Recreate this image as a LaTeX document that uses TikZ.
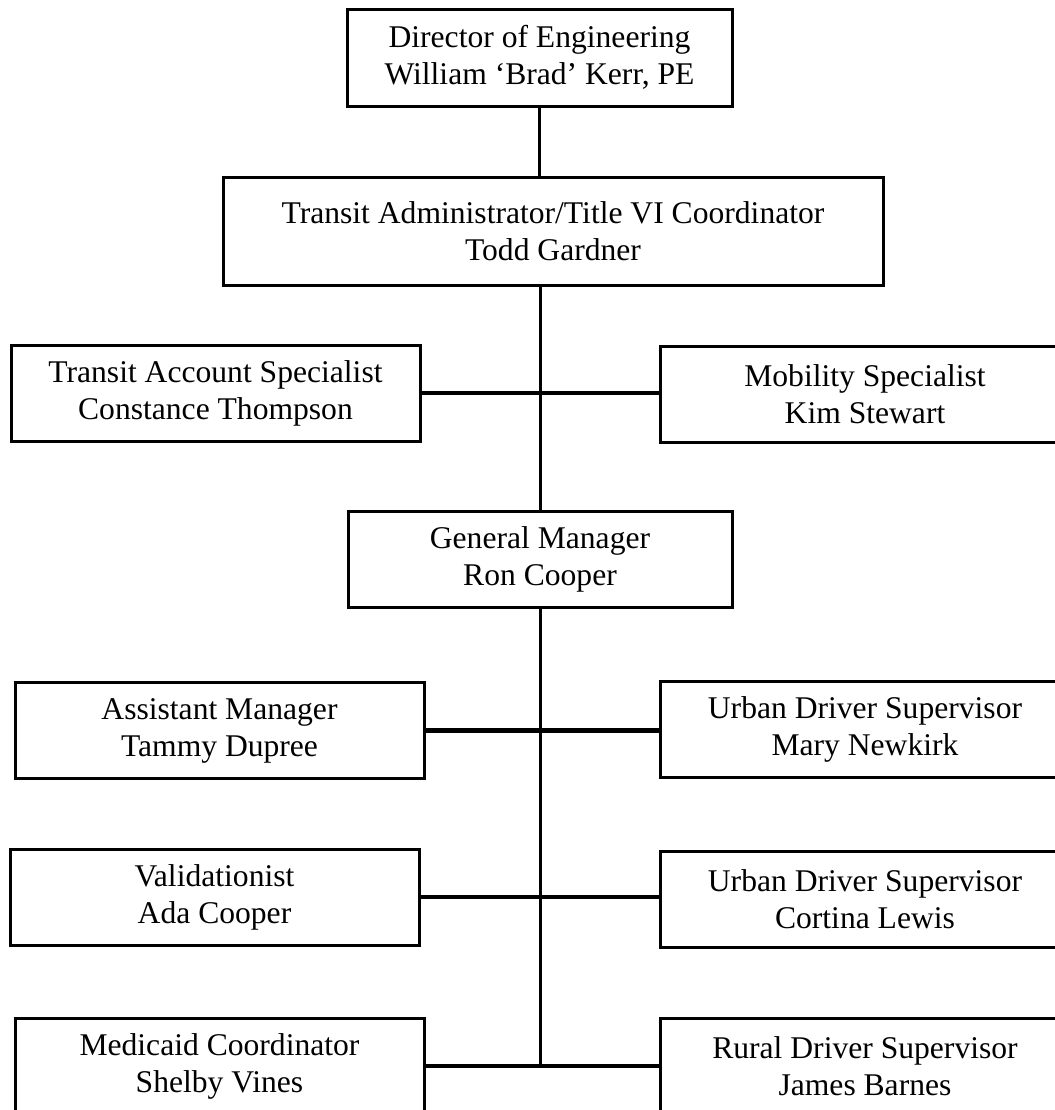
\documentclass[tikz,border=0pt]{standalone}
\usepackage{fontspec}
\setmainfont{Liberation Serif}
\usepackage{tikz}
\usetikzlibrary{positioning}

\begin{document}
\begin{tikzpicture}[x=0.5pt, y=-0.5pt,
  box/.style = {draw, line width=1.5pt, align=center, inner sep=0pt, outer sep=0pt,
                font=\fontsize{15.8}{18.5}\selectfont},
  side/.style = {box, minimum width=204.5pt, minimum height=48pt},
  link/.style = {line width=1.5pt},
  branch/.style = {line width=2.3pt}]
	\clip (0,0) rectangle (1055,1110);
	\node[box, minimum width=192.5pt, minimum height=48.5pt] (dir) at (539.5,57.5) {Director of Engineering\\William ‘Brad’ Kerr, PE};
	\node[box, minimum width=330pt, minimum height=54pt] (admin) at (553,231) {Transit Administrator/Title VI Coordinator\\Todd Gardner};
	\node[side] (acct) at (215.5,393) {Transit Account Specialist\\Constance Thompson};
	\node[side] (mob) at (865,394.5) {Mobility Specialist\\Kim Stewart};
	\node[box, minimum width=192pt, minimum height=48pt] (gm) at (540,559) {General Manager\\Ron Cooper};
	\node[side] (asst) at (219.5,730.5) {Assistant Manager\\Tammy Dupree};
	\node[side] (urbA) at (865,729) {Urban Driver Supervisor\\Mary Newkirk};
	\node[side] (val) at (214.5,897) {Validationist\\Ada Cooper};
	\node[side] (urbB) at (865,899) {Urban Driver Supervisor\\Cortina Lewis};
	\node[side] (med) at (219.5,1066) {Medicaid Coordinator\\Shelby Vines};
	\node[side] (rural) at (865,1066) {Rural Driver Supervisor\\James Barnes};
	\coordinate (end) at (gm.south |- med.east);
	% trunk
	\draw[link] (dir.south) -- (dir.south |- admin.north);
	\draw[link] (gm.north |- admin.south) -- (gm.north);
	\draw[link] (gm.south) -- (end);
	% branches
	\draw[branch] (acct.east) -- (acct.east -| mob.west);
	\draw[branch] (asst.east) -- (asst.east -| urbA.west);
	\draw[branch] (val.east) -- (val.east -| urbB.west);
	\draw[branch] (med.east) -- (rural.west);
\end{tikzpicture}
\end{document}
